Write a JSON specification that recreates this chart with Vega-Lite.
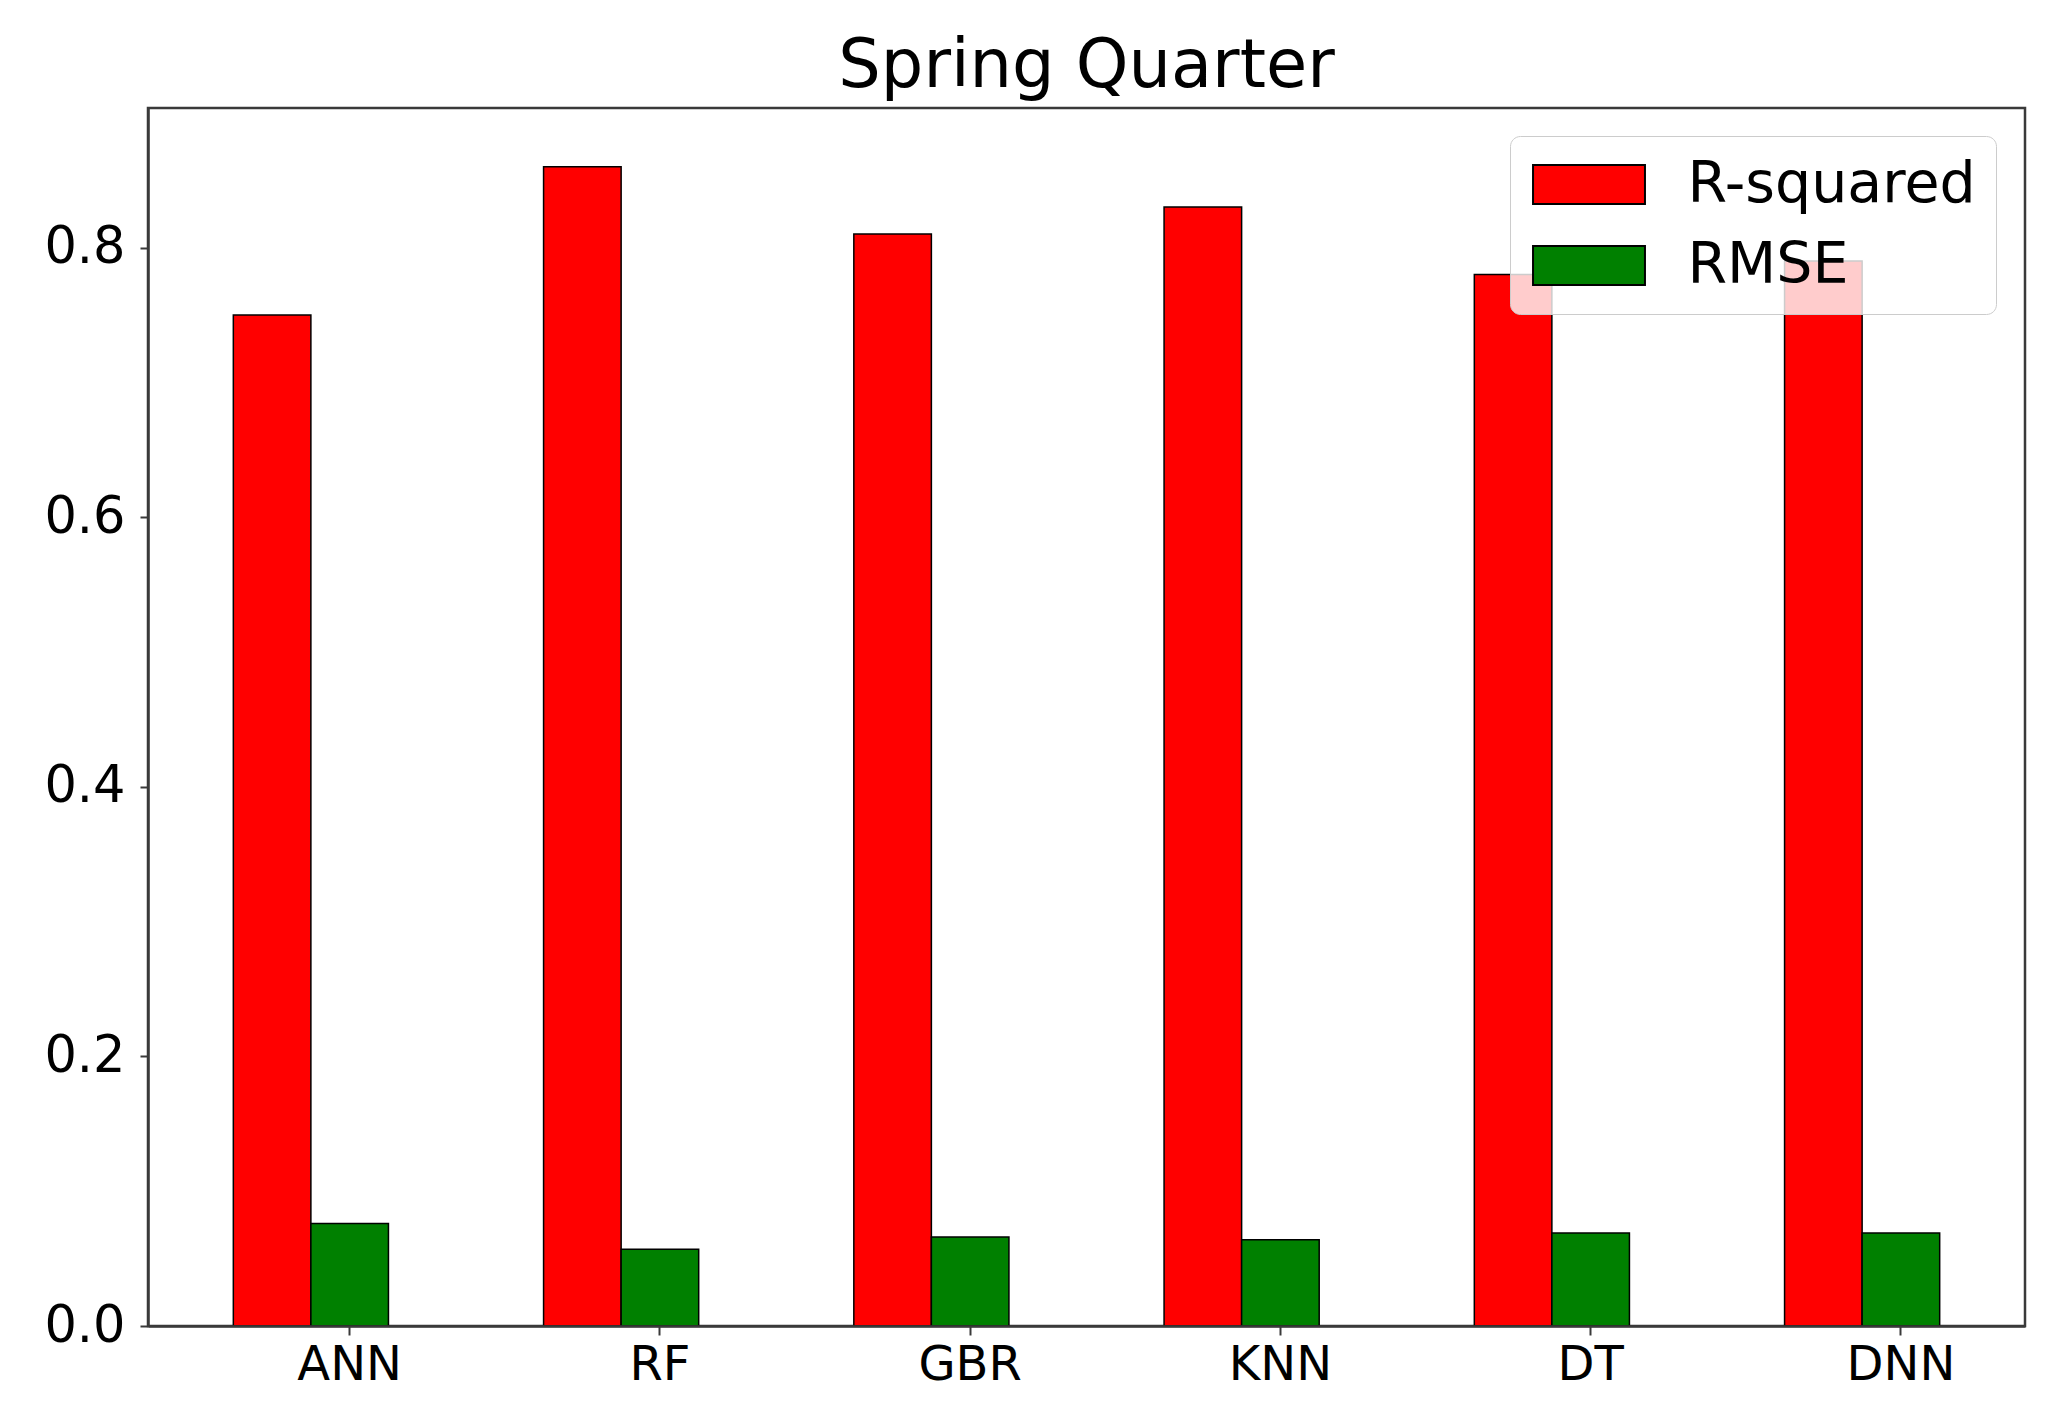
{
  "$schema": "https://vega.github.io/schema/vega-lite/v6.json",
  "autosize": "none",
  "width": 1877,
  "height": 1218,
  "padding": {"left": 148, "top": 108, "right": 43, "bottom": 99},
  "background": "white",
  "title": {
    "text": "Spring Quarter",
    "font": "DejaVu Sans",
    "fontSize": 67,
    "fontWeight": "normal",
    "color": "black",
    "anchor": "middle",
    "baseline": "alphabetic",
    "offset": -46
  },
  "config": {
    "view": {"stroke": "#3a3a3a", "strokeWidth": 2.5},
    "font": "DejaVu Sans"
  },
  "data": {
    "values": [
      {"model": "ANN", "metric": "R-squared", "value": 0.75},
      {"model": "ANN", "metric": "RMSE", "value": 0.076},
      {"model": "RF", "metric": "R-squared", "value": 0.86},
      {"model": "RF", "metric": "RMSE", "value": 0.057},
      {"model": "GBR", "metric": "R-squared", "value": 0.81},
      {"model": "GBR", "metric": "RMSE", "value": 0.066},
      {"model": "KNN", "metric": "R-squared", "value": 0.83},
      {"model": "KNN", "metric": "RMSE", "value": 0.064},
      {"model": "DT", "metric": "R-squared", "value": 0.78},
      {"model": "DT", "metric": "RMSE", "value": 0.069},
      {"model": "DNN", "metric": "R-squared", "value": 0.79},
      {"model": "DNN", "metric": "RMSE", "value": 0.069}
    ]
  },
  "mark": {"type": "bar", "stroke": "black", "strokeWidth": 1.5, "opacity": 1},
  "encoding": {
    "x": {
      "field": "model",
      "type": "nominal",
      "sort": ["ANN", "RF", "GBR", "KNN", "DT", "DNN"],
      "scale": {"paddingInner": 0.25, "paddingOuter": 0.15, "align": 0.9167},
      "axis": {
        "title": null,
        "labelAngle": 0,
        "labelFont": "DejaVu Sans",
        "labelFontSize": 48,
        "labelColor": "black",
        "labelPadding": 6,
        "tickSize": 9,
        "tickWidth": 2,
        "tickColor": "#3a3a3a",
        "domain": true,
        "domainColor": "#3a3a3a",
        "domainWidth": 2.5,
        "grid": false,
        "zindex": 1
      }
    },
    "xOffset": {
      "field": "metric",
      "type": "nominal",
      "scale": {"domain": ["R-squared", "RMSE", "pad"], "paddingInner": 0, "paddingOuter": 0}
    },
    "y": {
      "field": "value",
      "type": "quantitative",
      "scale": {"domain": [0, 0.9035], "nice": false, "zero": true},
      "axis": {
        "title": null,
        "values": [0, 0.2, 0.4, 0.6, 0.8],
        "format": ".1f",
        "labelFont": "DejaVu Sans",
        "labelFontSize": 51,
        "labelColor": "black",
        "labelPadding": 15,
        "tickSize": 8,
        "tickWidth": 2,
        "tickColor": "#3a3a3a",
        "domain": true,
        "domainColor": "#3a3a3a",
        "domainWidth": 2.5,
        "grid": false,
        "zindex": 1
      }
    },
    "color": {
      "field": "metric",
      "type": "nominal",
      "scale": {"domain": ["R-squared", "RMSE"], "range": ["#ff0000", "#008000"]},
      "legend": {
        "title": null,
        "orient": "none",
        "legendX": 1362,
        "legendY": 28,
        "symbolType": "M-2.87,-1L2.87,-1L2.87,1L-2.87,1Z",
        "symbolSize": 1521,
        "symbolStrokeColor": "black",
        "symbolStrokeWidth": 2,
        "symbolOpacity": 1,
        "symbolOffset": 30.5,
        "labelOffset": 70,
        "labelLimit": 500,
        "labelFont": "DejaVu Sans",
        "labelFontSize": 57,
        "labelColor": "black",
        "rowPadding": 23,
        "padding": 20,
        "fillColor": "rgba(255,255,255,0.8)",
        "strokeColor": "#cccccc",
        "cornerRadius": 10
      }
    }
  }
}
